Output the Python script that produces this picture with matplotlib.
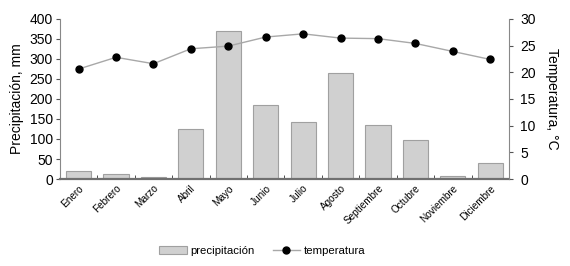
import numpy as np
import matplotlib
matplotlib.use('Agg')
import matplotlib.pyplot as plt

plt.rcParams['font.family'] = ['Liberation Sans', 'DejaVu Sans']

# datos
meses = ['Enero', 'Febrero', 'Marzo', 'Abril', 'Mayo', 'Junio', 'Julio',
         'Agosto', 'Septiembre', 'Octubre', 'Noviembre', 'Diciembre']
precipitacion = [19, 12, 4, 124, 369, 184, 142, 264, 134, 97, 7, 39]
temperatura = [20.6, 22.8, 21.6, 24.4, 24.9, 26.6, 27.2, 26.4, 26.3, 25.4, 23.9, 22.4]

fig = plt.figure(figsize=(5.7, 2.66), dpi=100)
ax = fig.add_axes([0.105, 0.327, 0.788, 0.602])
x = np.arange(len(meses))

# barras de precipitación
b = ax.bar(x, precipitacion, width=0.67, color='#d0d0d0', edgecolor='#a0a0a0',
           linewidth=0.8, label='precipitación', zorder=2)
ax.set_ylim(0, 400)
ax.set_xlim(-0.5, 11.5)
ax.set_yticks(range(0, 401, 50))
ax.set_ylabel('Precipitación, mm', fontsize=10)
ax.set_xticks(x)
ax.set_xticklabels(meses, rotation=45, ha='right', rotation_mode='anchor', fontsize=7.2)
ax.tick_params(axis='x', length=0, pad=3)
ax.set_xticks(np.arange(-0.5, 12, 1), minor=True)
ax.tick_params(axis='x', which='minor', direction='in', length=3, color='#333333')
ax.tick_params(axis='y', labelsize=10, length=3, color='#555555', pad=2)
ax.spines['top'].set_visible(False)
ax.spines['right'].set_visible(False)
ax.spines['left'].set_color('#888888')
ax.spines['left'].set_linewidth(0.8)
ax.spines['bottom'].set_color('#707070')
ax.spines['bottom'].set_linewidth(1.6)

# temperatura en eje secundario
ax2 = ax.twinx()
l, = ax2.plot(x, temperatura, color='#a8a8a8', linewidth=1, marker='o',
              markersize=5, markerfacecolor='black', markeredgecolor='black',
              label='temperatura', zorder=3)
ax2.set_ylim(0, 30)
ax2.set_yticks(range(0, 31, 5))
ax2.set_ylabel('Temperatura, °C', fontsize=10, rotation=270, labelpad=17)
ax2.tick_params(axis='y', labelsize=10, length=3, color='#555555', pad=5)
ax2.spines['top'].set_visible(False)
ax2.spines['left'].set_visible(False)
ax2.spines['bottom'].set_visible(False)
ax2.spines['right'].set_color('#888888')
ax2.spines['right'].set_linewidth(0.8)

fig.legend([b, l], ['precipitación', 'temperatura'], loc='center',
           bbox_to_anchor=(0.46, 0.055), ncol=2, frameon=False, fontsize=8.2,
           handlelength=2.4, columnspacing=1.6, handletextpad=0.3)

fig.savefig('out.png', dpi=100)
